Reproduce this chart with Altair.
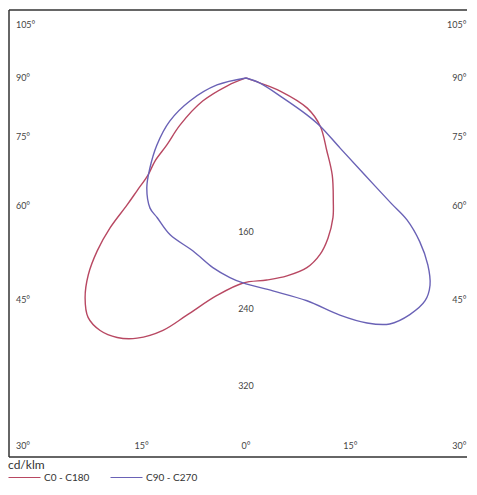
import altair as alt
import numpy as np
import pandas as pd

# ---- data (angle from nadir in degrees, intensity in cd/klm)
c0_angle = [-90, -67.2, -61.9, -54.5, -49.7, -47.6, -45.3, -44.0, -43.1, -42.2, -40.7,
            -38.7, -36.2, -33.4, -30.0, -26.4, -22.7, -18.2, -14.0, -7.6, -0.8, 5.9,
            11.7, 17.8, 22.7, 27.1, 31.9, 35.3, 41.6, 48.0, 57.0, 63.8, 69.1, 70.3, 90]
c0_value = [0, 21, 51, 84, 108, 128, 143, 163, 181, 210, 237,
            262, 283, 298, 303, 301, 293, 276, 254, 228, 213, 211,
            210, 207, 199, 187, 171, 157, 135, 113, 92, 71, 38, 15, 0]

c90_angle = [-90, -76.4, -67.7, -60.5, -53.0, -46.8, -42.0, -36.4, -32.4, -25.8, -17.0,
             -9.9, -4.6, -0.8, 7.2, 15.3, 21.6, 26.3, 30.3, 34.7, 38.8, 41.6, 44.2,
             46.7, 48.6, 49.2, 50.9, 53.3, 57.0, 58.8, 61.6, 70.3, 90]
c90_value = [0, 31, 63, 91, 116, 137, 154, 168, 172, 181, 188,
             200, 208, 213, 223, 240, 265, 284, 296, 299, 297, 288, 271,
             248, 223, 199, 157, 122, 92, 74, 44, 15, 0]

series_names = ["C0 - C180", "C90 - C270"]
series_colors = ["#b84862", "#6a62b6"]

ring_values = [160, 240, 320]
side_angles = [105, 90, 75, 60, 45, 30]
bottom_angles = [-15, 0, 15]

# ---- layout constants
W, H = 460, 447
X_DOM = [-246.2, 231.7]
Y_DOM = [-393.8, 70.6]
LABEL_R = 230.6      # radius (cd/klm) where side labels sit
BOTTOM_D = 405.0     # depth used to place bottom angle labels
BOTTOM_Y = -382.3
FONT = "Lato"
TXT = "#444444"

curves = pd.concat([
    pd.DataFrame({"series": series_names[0], "angle": c0_angle, "value": c0_value}),
    pd.DataFrame({"series": series_names[1], "angle": c90_angle, "value": c90_value}),
], ignore_index=True)

xs = alt.Scale(domain=X_DOM, nice=False, zero=False)
ys = alt.Scale(domain=Y_DOM, nice=False, zero=False)

lines = alt.Chart(curves).transform_calculate(
    px="datum.value * sin(datum.angle * PI / 180)",
    py="-datum.value * cos(datum.angle * PI / 180)",
).mark_line(strokeWidth=1.4, interpolate="catmull-rom").encode(
    x=alt.X("px:Q", scale=xs, axis=None),
    y=alt.Y("py:Q", scale=ys, axis=None),
    order=alt.Order("angle:Q"),
    color=alt.Color(
        "series:N",
        scale=alt.Scale(domain=series_names, range=series_colors),
        legend=alt.Legend(
            orient="none", legendX=-1, legendY=450, direction="horizontal",
            title="cd/klm", titleFontSize=12, titleFontWeight="normal",
            titleColor="#333333", titleFont=FONT, titlePadding=0,
            labelFont=FONT, labelFontSize=10, labelColor="#333333",
            symbolType="stroke", symbolSize=1024, symbolStrokeWidth=1,
            clipHeight=11, labelOffset=3, columnPadding=20, padding=0,
        ),
    ),
)

rings = pd.DataFrame({"v": ring_values})
rings["x"] = 0.0
rings["y"] = -rings["v"]
rings["t"] = rings["v"].astype(str)
ring_text = alt.Chart(rings).mark_text(font=FONT, fontSize=9, color=TXT).encode(
    x=alt.X("x:Q", scale=xs, axis=None), y=alt.Y("y:Q", scale=ys, axis=None), text="t:N")

sa = np.array(side_angles, dtype=float)
side_y = np.clip(-LABEL_R / np.tan(np.radians(sa)), BOTTOM_Y, 55)
side = pd.DataFrame({"y": side_y, "t": [f"{int(a)}°" for a in side_angles]})
left = side.assign(x=-239.0)
right = side.assign(x=229.0)
left_text = alt.Chart(left).mark_text(font=FONT, fontSize=9, color=TXT, align="left").encode(
    x=alt.X("x:Q", scale=xs, axis=None), y=alt.Y("y:Q", scale=ys, axis=None), text="t:N")
right_text = alt.Chart(right).mark_text(font=FONT, fontSize=9, color=TXT, align="right").encode(
    x=alt.X("x:Q", scale=xs, axis=None), y=alt.Y("y:Q", scale=ys, axis=None), text="t:N")

ba = np.array(bottom_angles, dtype=float)
bottom = pd.DataFrame({"x": BOTTOM_D * np.tan(np.radians(ba)), "y": BOTTOM_Y,
                       "t": [f"{abs(int(a))}°" for a in bottom_angles]})
bottom_text = alt.Chart(bottom).mark_text(font=FONT, fontSize=9, color=TXT, align="center").encode(
    x=alt.X("x:Q", scale=xs, axis=None), y=alt.Y("y:Q", scale=ys, axis=None), text="t:N")

one = pd.DataFrame({"k": [0]})
frame_top = alt.Chart(one).mark_rule(color="#333333", strokeWidth=1.5).encode(
    x=alt.value(0), x2=alt.value(W - 2), y=alt.value(0))
frame_bottom = alt.Chart(one).mark_rule(color="#333333", strokeWidth=1.5).encode(
    x=alt.value(0), x2=alt.value(W - 2), y=alt.value(H))
frame_left = alt.Chart(one).mark_rule(color="#333333", strokeWidth=1.5).encode(
    x=alt.value(0), y=alt.value(0), y2=alt.value(H))

chart = alt.layer(
    frame_top, frame_bottom, frame_left,
    ring_text, left_text, right_text, bottom_text, lines,
).properties(
    width=W, height=H,
    padding={"left": 1, "top": 2, "right": 0, "bottom": 29},
    autosize=alt.AutoSizeParams(type="none"),
    background="white",
).configure_view(strokeWidth=0, stroke="transparent")

chart.save("out.html", embed_options={"renderer": "svg", "actions": False})
